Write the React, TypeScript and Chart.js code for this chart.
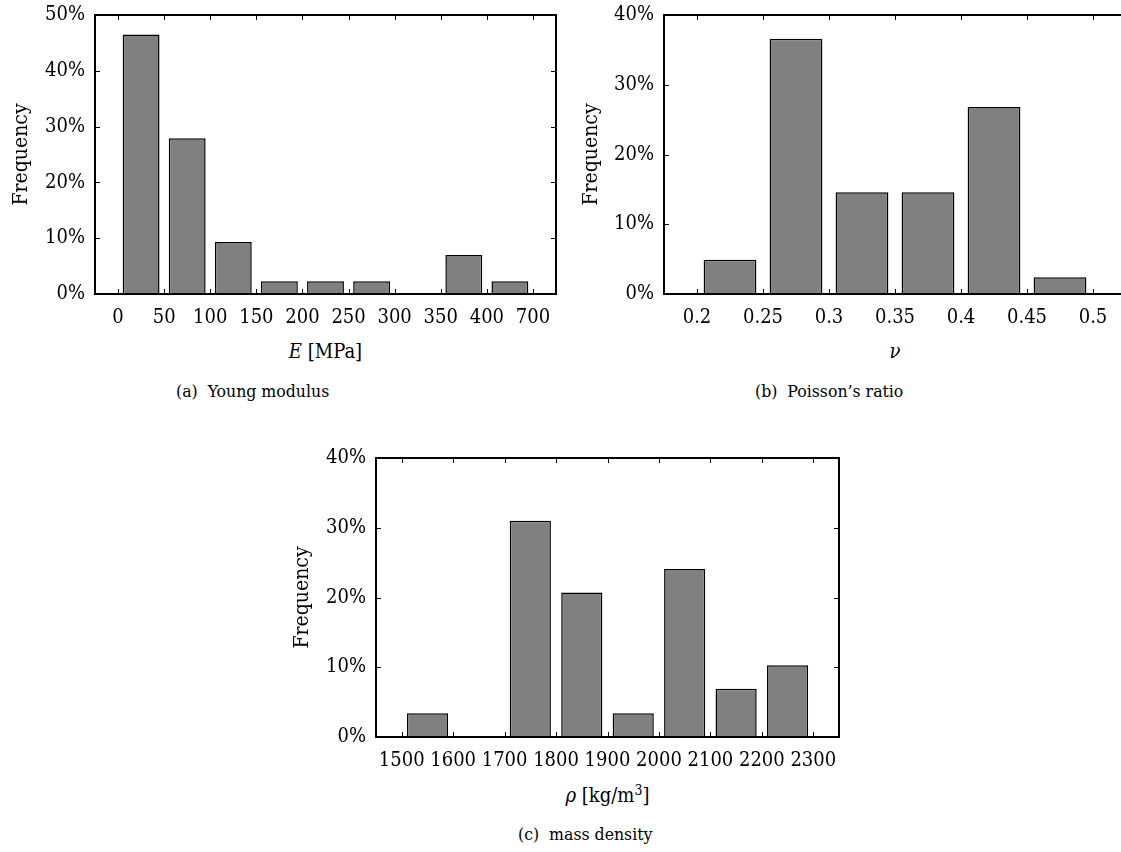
import React, { useEffect, useRef } from "react";
import { Chart, registerables } from "chart.js";

Chart.register(...registerables);

// ---------- data ----------
const youngEdges = ["0", "50", "100", "150", "200", "250", "300", "350", "400", "700"];
const youngFreq = [46.5, 27.9, 9.3, 2.3, 2.3, 2.3, 0, 7.0, 2.3];
const youngYMax = 50;

const poissonEdges = ["0.2", "0.25", "0.3", "0.35", "0.4", "0.45", "0.5"];
const poissonFreq = [4.9, 36.6, 14.6, 14.6, 26.8, 2.4];
const poissonYMax = 40;

const densityEdges = ["1500", "1600", "1700", "1800", "1900", "2000", "2100", "2200", "2300"];
const densityFreq = [3.4, 0, 31.0, 20.7, 3.4, 24.1, 6.9, 10.3];
const densityYMax = 40;

const yStep = 10;

const FONT = "'DejaVu Serif Condensed', 'DejaVu Serif', serif";

const framePlugin = {
  id: "frameTicks",
  afterDatasetsDraw(chart: any) {
    const { ctx, chartArea: a, scales } = chart;
    const xs = scales.x;
    const ys = scales.y;
    const tl = 5;
    ctx.save();
    ctx.strokeStyle = "#000";
    ctx.lineWidth = 1;
    ctx.beginPath();
    xs.ticks.forEach((t: any) => {
      const px = Math.round(xs.getPixelForValue(t.value)) + 0.5;
      ctx.moveTo(px, a.bottom);
      ctx.lineTo(px, a.bottom - tl);
      ctx.moveTo(px, a.top);
      ctx.lineTo(px, a.top + tl);
    });
    ys.ticks.forEach((t: any) => {
      const py = Math.round(ys.getPixelForValue(t.value)) + 0.5;
      ctx.moveTo(a.left, py);
      ctx.lineTo(a.left + tl, py);
      ctx.moveTo(a.right, py);
      ctx.lineTo(a.right - tl, py);
    });
    ctx.stroke();
    ctx.lineWidth = 2;
    ctx.strokeRect(a.left, a.top, a.right - a.left, a.bottom - a.top);
    ctx.restore();
  },
};

type HistProps = {
  edges: string[];
  freq: number[];
  yMax: number;
  left: number;
  top: number;
  width: number;
  height: number;
  area: { left: number; right: number; top: number; bottom: number };
};

function Histogram({ edges, freq, yMax, left, top, width, height, area }: HistProps) {
  const ref = useRef<HTMLCanvasElement | null>(null);
  useEffect(() => {
    if (!ref.current) return;
    const tickFont = { family: FONT, size: 20 };
    const chart = new Chart(ref.current, {
      type: "bar",
      data: {
        datasets: [
          {
            data: freq.map((v, i) => ({ x: i + 0.5, y: v })),
            backgroundColor: "#808080",
            borderColor: "#000",
            borderWidth: 1.5,
            barPercentage: 0.8,
            categoryPercentage: 1,
          },
        ],
      },
      options: {
        responsive: false,
        animation: false,
        events: [],
        layout: {
          padding: { left: 0, top: area.top, right: width - area.right, bottom: 0 },
        },
        plugins: { legend: { display: false }, tooltip: { enabled: false } },
        scales: {
          x: {
            type: "linear",
            min: -0.5,
            max: edges.length - 0.5,
            offset: false,
            grid: { display: false, drawTicks: false },
            border: { display: false },
            afterBuildTicks: (s: any) => {
              s.ticks = edges.map((_, i) => ({ value: i }));
            },
            ticks: {
              autoSkip: false,
              maxRotation: 0,
              minRotation: 0,
              padding: 12,
              color: "#000",
              font: tickFont,
              callback: (v: any) => (edges[Math.round(v)] !== undefined ? edges[Math.round(v)] : ""),
            },
            afterFit: (s: any) => {
              s.height = height - area.bottom;
              s.paddingLeft = 0;
              s.paddingRight = 0;
            },
          },
          y: {
            type: "linear",
            min: 0,
            max: yMax,
            grid: { display: false, drawTicks: false },
            border: { display: false },
            ticks: {
              stepSize: yStep,
              padding: 10,
              color: "#000",
              font: tickFont,
              callback: (v: any) => `${v}%`,
            },
            title: {
              display: true,
              text: "Frequency",
              color: "#000",
              font: { family: FONT, size: 21 },
              padding: { top: 9, bottom: 0 },
            },
            afterFit: (s: any) => {
              s.width = area.left;
              s.paddingTop = 0;
              s.paddingBottom = 0;
            },
          },
        },
      },
      plugins: [framePlugin],
    } as any);
    return () => chart.destroy();
  }, []);
  return (
    <canvas
      ref={ref}
      width={width}
      height={height}
      style={{ position: "absolute", left, top, width, height }}
    />
  );
}

const textStyle = (cx: number, cy: number, size: number): React.CSSProperties => ({
  position: "absolute",
  left: cx,
  top: cy,
  transform: "translate(-50%, -50%)",
  fontSize: size,
  whiteSpace: "nowrap",
  lineHeight: 1,
  color: "#000",
});

const capStyle = (x: number, cy: number, size: number): React.CSSProperties => ({
  position: "absolute",
  left: x,
  top: cy,
  transform: "translateY(-50%)",
  fontSize: size,
  whiteSpace: "nowrap",
  lineHeight: 1,
  color: "#000",
});

export default function App() {
  return (
    <div
      style={{
        position: "fixed",
        left: 0,
        top: 0,
        width: 1121,
        height: 852,
        overflow: "hidden",
        background: "#fff",
        fontFamily: FONT,
      }}
    >
      <Histogram
        edges={youngEdges}
        freq={youngFreq}
        yMax={youngYMax}
        left={0}
        top={0}
        width={580}
        height={330}
        area={{ left: 95, right: 556, top: 15, bottom: 294 }}
      />
      <Histogram
        edges={poissonEdges}
        freq={poissonFreq}
        yMax={poissonYMax}
        left={570}
        top={0}
        width={600}
        height={330}
        area={{ left: 94, right: 556, top: 15, bottom: 294 }}
      />
      <Histogram
        edges={densityEdges}
        freq={densityFreq}
        yMax={densityYMax}
        left={281}
        top={443}
        width={580}
        height={330}
        area={{ left: 95, right: 558, top: 15, bottom: 294 }}
      />

      <div style={textStyle(325.5, 351, 20)}>
        <i>E</i> [MPa]
      </div>
      <div style={textStyle(895, 351, 20)}>
        <i>ν</i>
      </div>
      <div style={textStyle(607.5, 795, 20)}>
        <i>ρ</i> [kg/m<sup style={{ fontSize: "0.7em", verticalAlign: "0.5em", lineHeight: 0 }}>3</sup>]
      </div>

      <div style={capStyle(176, 392, 17.5)}>(a)&nbsp; Young modulus</div>
      <div style={capStyle(755, 392, 17.5)}>(b)&nbsp; Poisson’s ratio</div>
      <div style={capStyle(518, 835, 17.5)}>(c)&nbsp; mass density</div>
    </div>
  );
}
